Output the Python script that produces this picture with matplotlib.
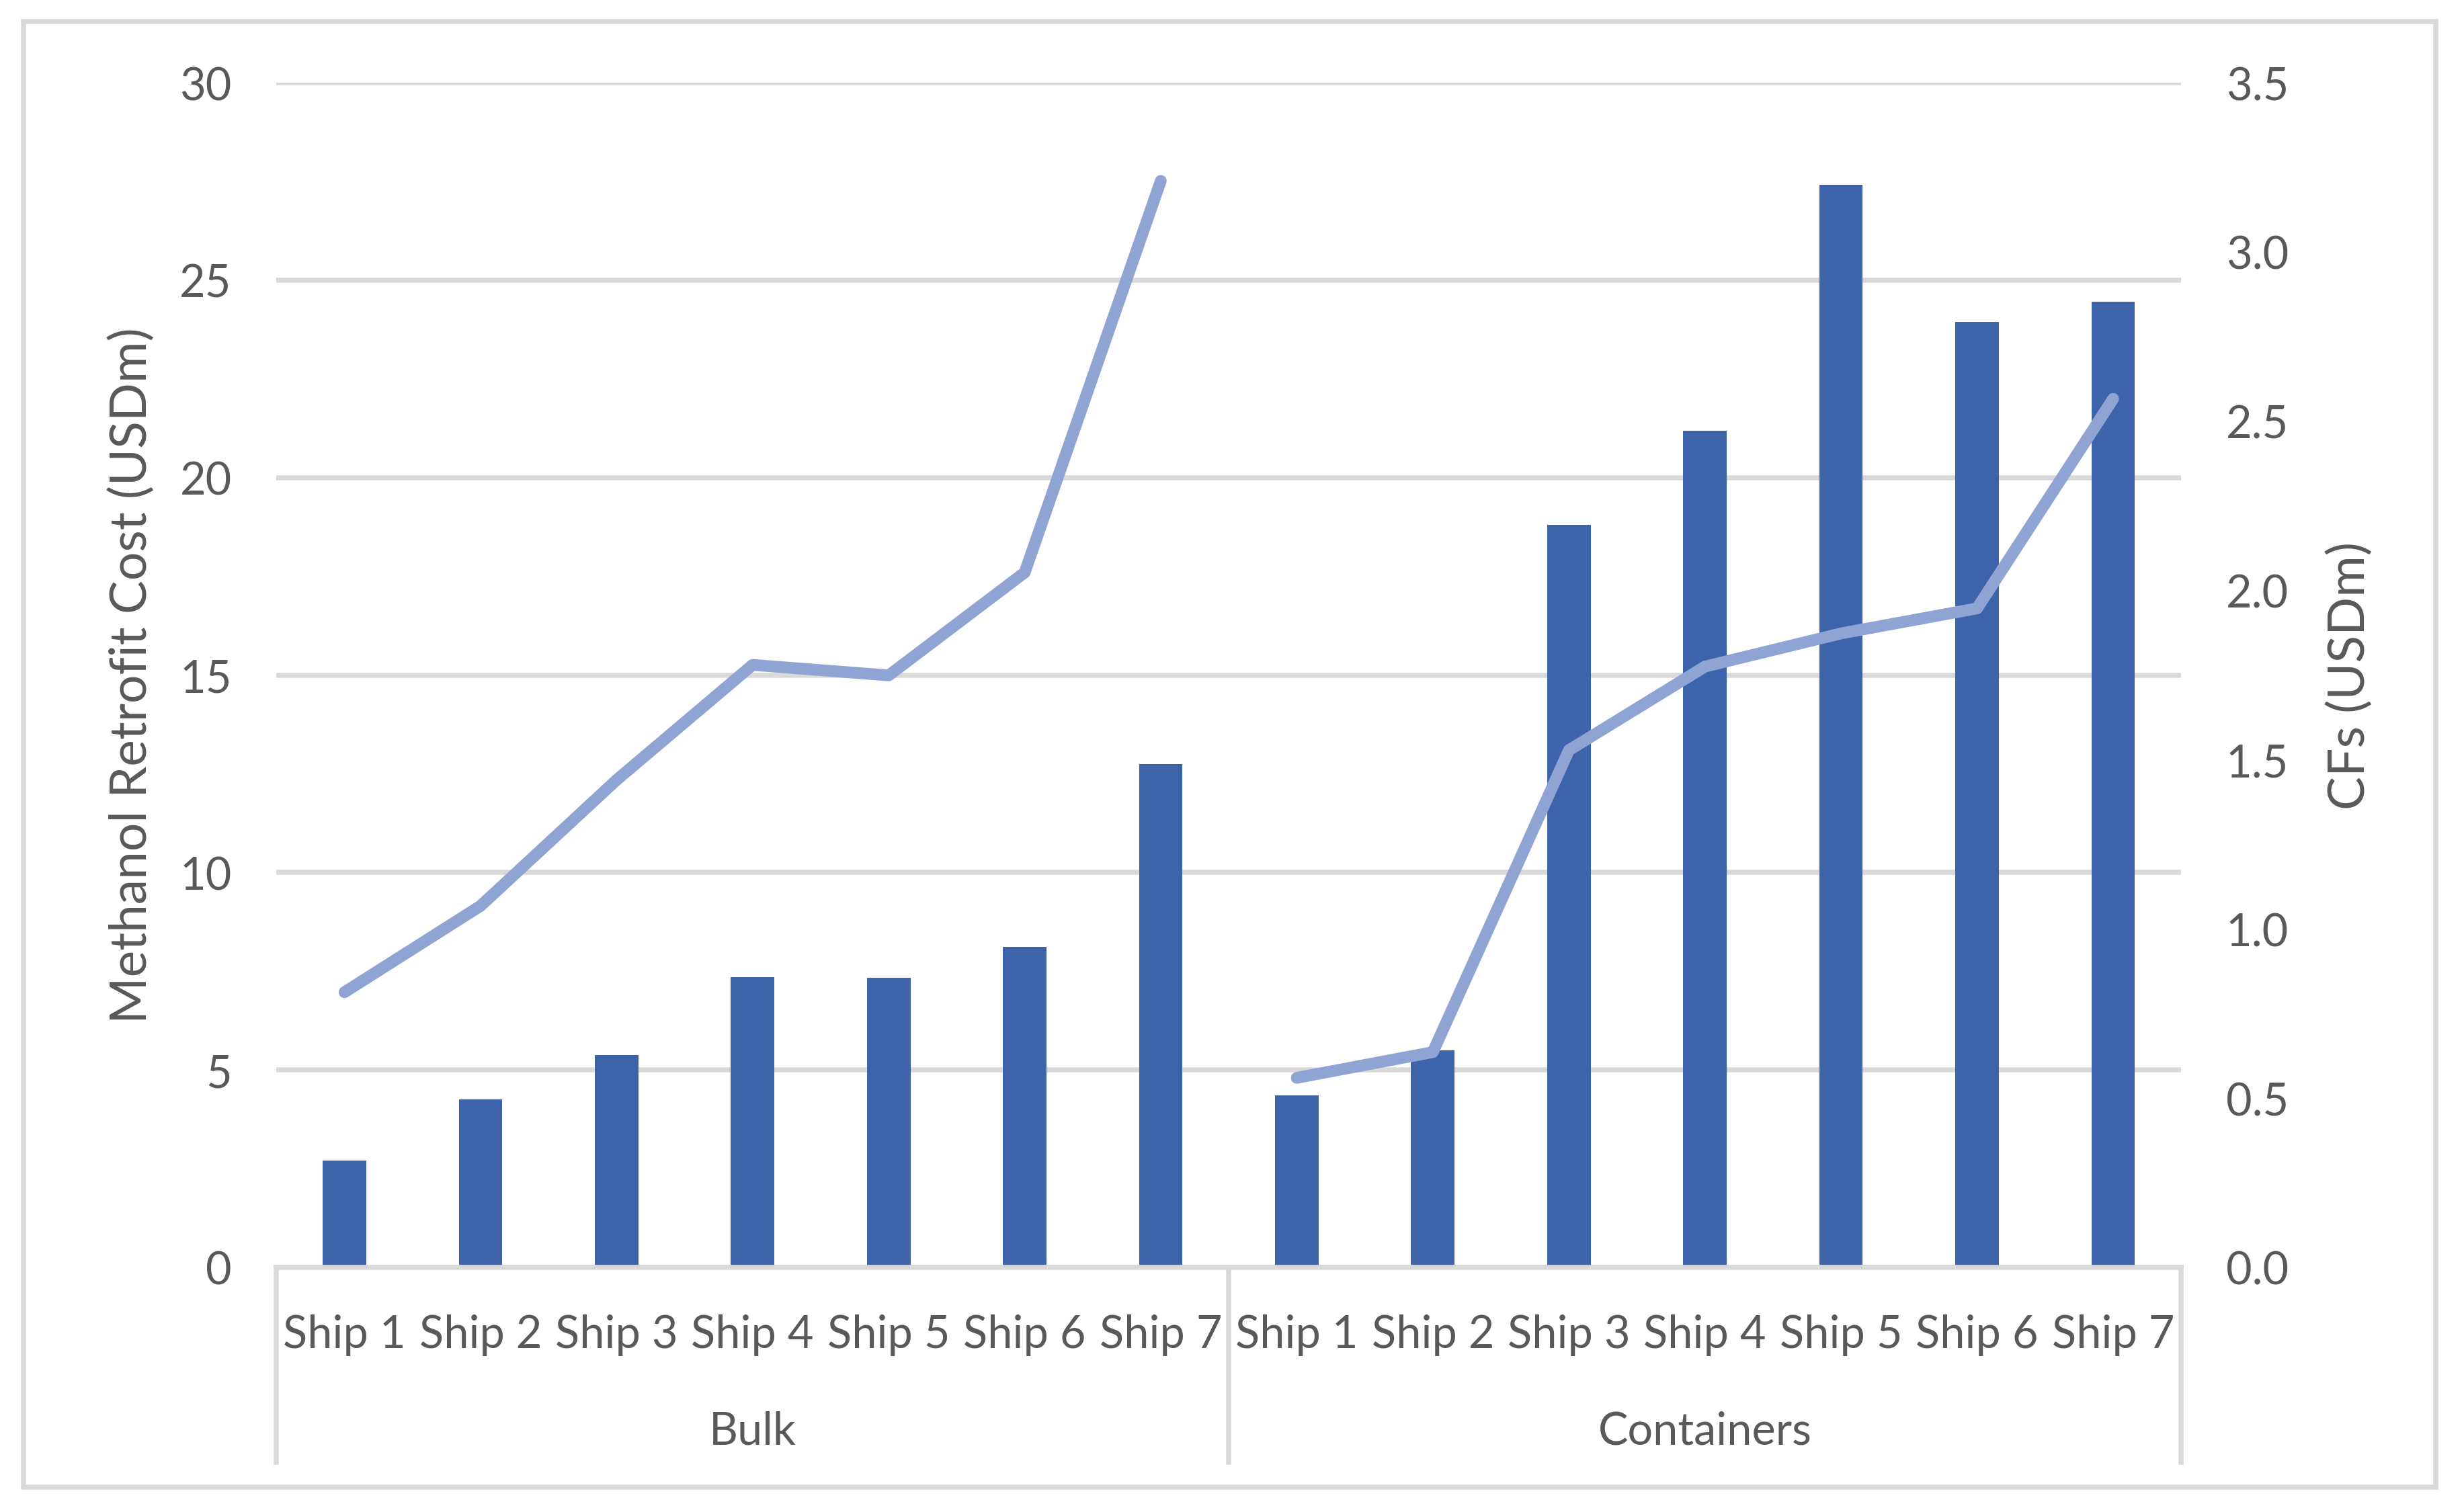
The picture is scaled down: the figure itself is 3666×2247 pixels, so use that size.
import matplotlib
matplotlib.use('Agg')
import matplotlib.pyplot as plt
from matplotlib.patches import Rectangle

plt.rcParams['font.family'] = ['Lato', 'DejaVu Sans']

# DATA=======================================================
groups = ['Bulk', 'Containers']
ships = ['Ship 1', 'Ship 2', 'Ship 3', 'Ship 4', 'Ship 5', 'Ship 6', 'Ship 7']

retrofit_bulk = [2.70, 4.25, 5.37, 7.35, 7.33, 8.12, 12.75]
retrofit_cont = [4.35, 5.49, 18.80, 21.18, 27.42, 23.95, 24.45]

cfs_bulk = [0.813, 1.068, 1.44, 1.780, 1.749, 2.053, 3.21]
cfs_cont = [0.560, 0.636, 1.528, 1.775, 1.873, 1.947, 2.566]

left_ticks = [0, 5, 10, 15, 20, 25, 30]
right_ticks = [0.0, 0.5, 1.0, 1.5, 2.0, 2.5, 3.0, 3.5]

# STYLE======================================================
BAR_COLOR = '#3D64AB'
LINE_COLOR = '#8FA4D3'
GRID_COLOR = '#D9D9D9'
TEXT_COLOR = '#595959'
TICK_SIZE = 16
LABEL_SIZE = 18

AX_LEFT, AX_BOTTOM, AX_RIGHT, AX_TOP = 0.1122, 0.1606, 0.8852, 0.9448

fig = plt.figure(figsize=(12.22, 7.4933), dpi=300)
ax = fig.add_axes([AX_LEFT, AX_BOTTOM, AX_RIGHT - AX_LEFT, AX_TOP - AX_BOTTOM])
ax2 = ax.twinx()

n = len(ships)
x_bulk = list(range(n))
x_cont = [i + n for i in range(n)]

ax.bar(x_bulk + x_cont, retrofit_bulk + retrofit_cont, width=0.32, color=BAR_COLOR, zorder=3)
ax2.plot(x_bulk, cfs_bulk, color=LINE_COLOR, lw=4.2, solid_capstyle='round', solid_joinstyle='round', zorder=4)
ax2.plot(x_cont, cfs_cont, color=LINE_COLOR, lw=4.2, solid_capstyle='round', solid_joinstyle='round', zorder=4)

ax.set_xlim(-0.5, 2 * n - 0.5)
ax.set_ylim(0, 30)
ax2.set_ylim(0, 3.5)

ax.set_yticks(left_ticks)
ax.set_yticklabels([str(t) for t in left_ticks])
ax2.set_yticks(right_ticks)
ax2.set_yticklabels([f'{t:.1f}' for t in right_ticks])

ax.yaxis.grid(True, color=GRID_COLOR, lw=1.8, zorder=0)
ax.set_axisbelow(True)

for a in (ax, ax2):
    for side in ('top', 'left', 'right', 'bottom'):
        a.spines[side].set_visible(False)
    a.tick_params(axis='y', length=0, labelsize=TICK_SIZE, labelcolor=TEXT_COLOR)
ax.tick_params(axis='y', pad=16)
ax2.tick_params(axis='y', pad=16)

ax.set_xticks([])

mid_y = (AX_BOTTOM + AX_TOP) / 2
ax.set_ylabel('Methanol Retrofit Cost (USDm)', fontsize=LABEL_SIZE, color=TEXT_COLOR)
ax2.set_ylabel('CFs (USDm)', fontsize=LABEL_SIZE, color=TEXT_COLOR, rotation=90)
ax.yaxis.set_label_coords(0.063, mid_y, transform=fig.transFigure)
ax2.yaxis.set_label_coords(0.944, mid_y, transform=fig.transFigure)

# category axis: baseline, separators, two label rows
trans = ax.get_xaxis_transform()
ax.plot([-0.5, 2 * n - 0.5], [0, 0], transform=trans, color=GRID_COLOR, lw=1.8, clip_on=False, zorder=5)
for xs in (-0.5, n - 0.5, 2 * n - 0.5):
    ax.plot([xs, xs], [0, -0.1645], transform=trans, color=GRID_COLOR, lw=1.8, clip_on=False)

for i, s in enumerate(ships + ships):
    ax.text(i, -0.057, s, transform=trans, ha='center', va='center',
            fontsize=TICK_SIZE, color=TEXT_COLOR)
for g, name in enumerate(groups):
    ax.text(g * n + (n - 1) / 2, -0.138, name, transform=trans, ha='center', va='center',
            fontsize=TICK_SIZE, color=TEXT_COLOR)

# chart border
fig.patches.append(Rectangle((0.0095, 0.0151), 0.9886 - 0.0095, 0.9853 - 0.0151,
                             transform=fig.transFigure, fill=False,
                             edgecolor=GRID_COLOR, lw=1.8))

fig.savefig('out.png', dpi=300)
